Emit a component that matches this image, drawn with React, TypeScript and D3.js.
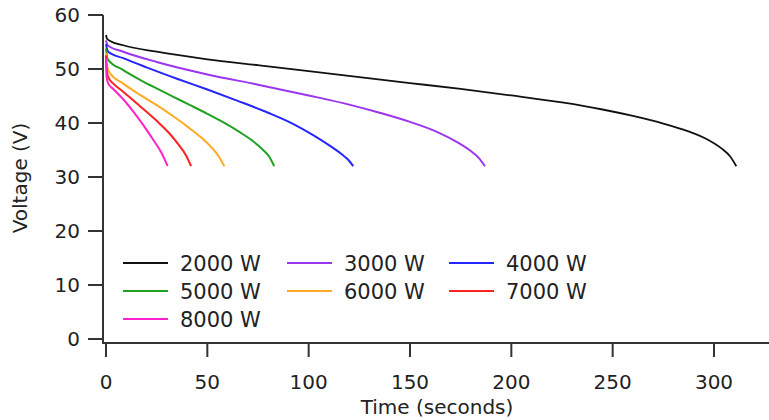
import React from "react";
import * as d3 from "d3";

// ---- Data ----
const seriesLabels = ["2000 W", "3000 W", "4000 W", "5000 W", "6000 W", "7000 W", "8000 W"];

const t2000 = [0, 0.5, 2, 8.5, 25, 50, 75, 100, 125, 150, 175, 200, 225, 245, 260, 275, 287, 297, 304, 308, 311];
const v2000 = [56.3, 55.6, 55.2, 54.4, 53.2, 51.8, 50.7, 49.6, 48.5, 47.4, 46.3, 45.1, 43.8, 42.5, 41.3, 39.9, 38.5, 36.9, 35.2, 33.8, 32.0];

const t3000 = [0, 0.5, 1.1, 8.5, 25, 50, 75, 100, 120, 135, 150, 163, 173, 180, 184, 187];
const v3000 = [55.3, 54.6, 54.3, 53.2, 51.3, 49.0, 47.1, 45.1, 43.4, 41.9, 40.2, 38.4, 36.5, 34.8, 33.5, 32.0];

const t4000 = [0, 0.5, 1.1, 8.5, 20, 35, 50, 65, 80, 92, 102, 110, 116, 119.5, 122];
const v4000 = [54.6, 53.7, 53.2, 52.0, 50.3, 48.2, 46.2, 44.1, 41.9, 39.9, 37.8, 35.9, 34.3, 33.2, 32.0];

const t5000 = [0, 0.5, 1.1, 8.5, 16.8, 25, 33, 41, 50, 58, 66, 72, 77, 80.5, 83];
const v5000 = [53.8, 52.3, 51.7, 49.8, 48.0, 46.4, 44.9, 43.4, 41.7, 40.1, 38.3, 36.8, 35.2, 33.8, 32.0];

const t6000 = [0, 0.5, 2, 8.5, 16.8, 25, 33, 41, 47, 52, 55.5, 58.4];
const v6000 = [53.0, 50.5, 49.2, 47.3, 45.2, 43.3, 41.3, 39.1, 37.3, 35.5, 33.9, 32.0];

const t7000 = [0, 0.5, 1.5, 3.6, 8.5, 16.8, 25, 31, 36, 39.5, 42];
const v7000 = [52.5, 49.3, 48.2, 47.3, 45.8, 43.1, 40.4, 38.2, 35.9, 34.0, 32.0];

const t8000 = [0, 0.3, 1.1, 3.6, 8.5, 13.5, 18.4, 23.3, 27.5, 30.4];
const v8000 = [52.0, 48.5, 47.3, 46.3, 44.4, 42.1, 39.6, 36.9, 34.4, 32.0];

const seriesTimes = [t2000, t3000, t4000, t5000, t6000, t7000, t8000];
const seriesVolts = [v2000, v3000, v4000, v5000, v6000, v7000, v8000];

const xTicks = [0, 50, 100, 150, 200, 250, 300];
const yTicks = [0, 10, 20, 30, 40, 50, 60];

// ---- Styles ----
const colors = ["#111111", "#9b35ee", "#2525ff", "#22a022", "#ffaa22", "#ff2020", "#ff22cc"];
const FONT = "'DejaVu Sans', Verdana, sans-serif";
const AXIS = "#333333";

export default function App() {
  const W = 769;
  const H = 420;
  const x = d3.scaleLinear().domain([0, 300]).range([106, 714]);
  const y = d3.scaleLinear().domain([0, 60]).range([339, 15]);
  const axisX = 103;
  const axisY = 343;

  const line = d3
    .line<[number, number]>()
    .x((d) => x(d[0]))
    .y((d) => y(d[1]))
    .curve(d3.curveMonotoneX);

  const legendCols = [123, 287, 449];
  const legendRows = [263, 291, 319];

  return (
    <svg width={W} height={H} style={{ position: "absolute", left: 0, top: 0, background: "#fff" }}>
      {/* data lines */}
      {seriesTimes.map((ts, i) => (
        <path
          key={i}
          d={line(ts.map((t, j) => [t, seriesVolts[i][j]] as [number, number])) || ""}
          fill="none"
          stroke={colors[i]}
          strokeWidth={i === 0 ? 1.8 : 2}
          strokeLinejoin="round"
        />
      ))}

      {/* y axis */}
      <line x1={axisX} x2={axisX} y1={y(60)} y2={axisY + 1} stroke={AXIS} strokeWidth={2} />
      {yTicks.map((v) => (
        <g key={v}>
          <line x1={axisX - 15} x2={axisX} y1={y(v)} y2={y(v)} stroke={AXIS} strokeWidth={2} />
          <text x={80} y={y(v) + 7.3} textAnchor="end" fontFamily={FONT} fontSize={20} fill="#222">
            {v}
          </text>
        </g>
      ))}

      {/* x axis */}
      <line x1={axisX - 1} x2={W} y1={axisY} y2={axisY} stroke={AXIS} strokeWidth={2} />
      {xTicks.map((t) => (
        <g key={t}>
          <line x1={x(t)} x2={x(t)} y1={axisY} y2={axisY + 14} stroke={AXIS} strokeWidth={2} />
          <text x={x(t)} y={388.5} textAnchor="middle" fontFamily={FONT} fontSize={20} fill="#222">
            {t}
          </text>
        </g>
      ))}

      {/* axis titles */}
      <text x={437} y={414} textAnchor="middle" fontFamily={FONT} fontSize={20} fill="#222">
        Time (seconds)
      </text>
      <text
        transform={`translate(27,178) rotate(-90)`}
        textAnchor="middle"
        fontFamily={FONT}
        fontSize={20}
        fill="#222"
      >
        Voltage (V)
      </text>

      {/* legend */}
      {seriesLabels.map((lab, i) => {
        const cx = legendCols[i % 3];
        const cy = legendRows[Math.floor(i / 3)];
        return (
          <g key={lab}>
            <line x1={cx} x2={cx + 45} y1={cy} y2={cy} stroke={colors[i]} strokeWidth={2} />
            <text x={cx + 57} y={cy + 8} fontFamily={FONT} fontSize={21} fill="#222">
              {lab}
            </text>
          </g>
        );
      })}
    </svg>
  );
}
